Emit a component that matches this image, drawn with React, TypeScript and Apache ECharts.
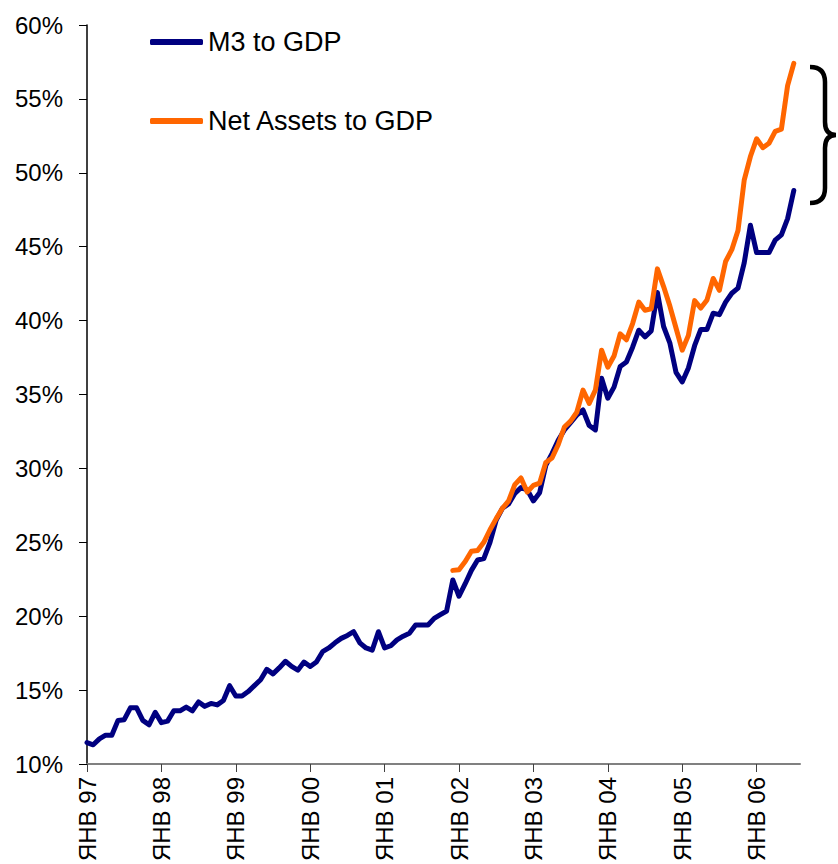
import React, { useEffect, useRef } from "react";
import * as echarts from "echarts";

const monthNames = ["ЯНВ", "ФЕВ", "МАР", "АПР", "МАЙ", "ИЮН", "ИЮЛ", "АВГ", "СЕН", "ОКТ", "НОЯ", "ДЕК"];
const years = ["97", "98", "99", "00", "01", "02", "03", "04", "05", "06"];
const monthCount = 116; // Jan 97 .. Aug 06 (axis end)

const m3ToGdp = [
  11.45, 11.3, 11.7, 11.95, 11.95, 12.95, 13.0, 13.8, 13.8, 12.95, 12.65, 13.5,
  12.8, 12.9, 13.6, 13.6, 13.85, 13.6, 14.2, 13.9, 14.1, 14.0, 14.3, 15.3,
  14.6, 14.6, 14.9, 15.3, 15.7, 16.4, 16.1, 16.5, 16.95, 16.6, 16.35, 16.9,
  16.6, 16.9, 17.6, 17.85, 18.2, 18.5, 18.7, 18.95, 18.2, 17.85, 17.7, 18.95,
  17.85, 18.0, 18.4, 18.65, 18.85, 19.4, 19.4, 19.4, 19.85, 20.1, 20.35, 22.45,
  21.35, 22.2, 23.1, 23.8, 23.9, 25.0, 26.5, 27.3, 27.6, 28.3, 28.7, 28.55,
  27.8, 28.35, 30.2, 31.0, 31.9, 32.6, 33.1, 33.6, 33.95, 32.9, 32.6, 36.1,
  34.75, 35.5, 36.9, 37.2, 38.2, 39.35, 38.9, 39.3, 41.9, 39.6, 38.5, 36.5,
  35.85, 36.8, 38.3, 39.4, 39.4, 40.5, 40.4, 41.25, 41.85, 42.2, 43.9, 46.45,
  44.6, 44.6, 44.6, 45.45, 45.8, 46.9, 48.8,
];

const netAssetsStart = 59; // Dec 01
const netAssetsToGdp = [
  23.1, 23.15, 23.7, 24.4, 24.45, 25.0, 25.85, 26.6, 27.3, 27.8, 28.9, 29.35,
  28.4, 28.85, 29.0, 30.4, 30.7, 31.6, 32.8, 33.2, 33.8, 35.3, 34.4, 35.3,
  38.0, 36.85, 37.6, 39.1, 38.7, 39.8, 41.25, 40.7, 40.8, 43.5, 42.3, 41.0,
  39.5, 38.0, 39.0, 41.35, 40.85, 41.4, 42.85, 42.05, 44.0, 44.8, 46.1, 49.5,
  51.1, 52.3, 51.7, 52.0, 52.8, 52.95, 55.9, 57.4,
];

const seriesNames = ["M3 to GDP", "Net Assets to GDP"];
const seriesColors = ["#000080", "#FF6600"];

const categories: string[] = [];
for (let i = 0; i < monthCount; i++) {
  const y = years[Math.floor(i / 12)];
  categories.push(`${monthNames[i % 12]} ${y}`);
}

const braceD =
  "M810,67 Q825,67 825,82 L825,122 Q825,135 836,135 Q825,135 825,148 L825,188 Q825,203 810,203";

let braceRegistered = false;

export default function App() {
  const ref = useRef<HTMLDivElement>(null);

  useEffect(() => {
    document.body.style.margin = "0";
    if (!braceRegistered) {
      echarts.graphic.registerShape("brace", echarts.graphic.extendPath(braceD, {}));
      braceRegistered = true;
    }
    const chart = echarts.init(ref.current!, null, { renderer: "svg" });
    const font = "'Liberation Sans', Arial, sans-serif";
    const m3Data = categories.map((_, i) => (i < m3ToGdp.length ? m3ToGdp[i] : null));
    const naData = categories.map((_, i) => {
      const k = i - netAssetsStart;
      return k >= 0 && k < netAssetsToGdp.length ? netAssetsToGdp[k] : null;
    });
    const showJan = (i: number) => i % 12 === 0;
    const legendText = { fontSize: 27, color: "#000", fontFamily: font, lineHeight: 30 };

    chart.setOption({
      animation: false,
      backgroundColor: "#ffffff",
      textStyle: { fontFamily: font },
      grid: { left: 87, right: 38, top: 25, bottom: 100, containLabel: false, outerBoundsMode: "none" },
      legend: [
        {
          data: [seriesNames[0]],
          orient: "vertical",
          left: 145,
          top: 22,
          icon: "roundRect",
          itemWidth: 53,
          itemHeight: 6,
          textStyle: legendText,
        },
        {
          data: [seriesNames[1]],
          orient: "vertical",
          left: 145,
          top: 101,
          icon: "roundRect",
          itemWidth: 53,
          itemHeight: 6,
          textStyle: legendText,
        },
      ],
      xAxis: {
        type: "category",
        data: categories,
        boundaryGap: false,
        axisLine: { lineStyle: { color: "#808080", width: 2 } },
        axisTick: { interval: (i: number) => showJan(i), length: 8, lineStyle: { color: "#404040", width: 1 } },
        axisLabel: {
          interval: (i: number) => showJan(i),
          rotate: 90,
          margin: 13,
          fontSize: 24,
          color: "#000",
          fontFamily: font,
        },
        splitLine: { show: false },
      },
      yAxis: {
        type: "value",
        min: 10,
        max: 60,
        interval: 5,
        axisLine: { show: true, lineStyle: { color: "#000", width: 1.5 } },
        axisTick: { show: true, length: 8, lineStyle: { color: "#000", width: 1 } },
        axisLabel: { formatter: "{value}%", fontSize: 24, color: "#000", margin: 24, fontFamily: font },
        splitLine: { show: false },
      },
      series: [
        {
          name: seriesNames[0],
          type: "line",
          data: m3Data,
          showSymbol: false,
          symbol: "none",
          color: seriesColors[0],
          lineStyle: { width: 5, color: seriesColors[0], cap: "round", join: "round" },
        },
        {
          name: seriesNames[1],
          type: "line",
          data: naData,
          showSymbol: false,
          symbol: "none",
          color: seriesColors[1],
          lineStyle: { width: 5, color: seriesColors[1], cap: "round", join: "round" },
        },
      ],
      graphic: [
        {
          type: "brace",
          x: 0,
          y: 0,
          style: { fill: "none", stroke: "#000", lineWidth: 4.5 },
        },
      ],
    });
    return () => chart.dispose();
  }, []);

  return <div ref={ref} style={{ width: 838, height: 864 }} />;
}
